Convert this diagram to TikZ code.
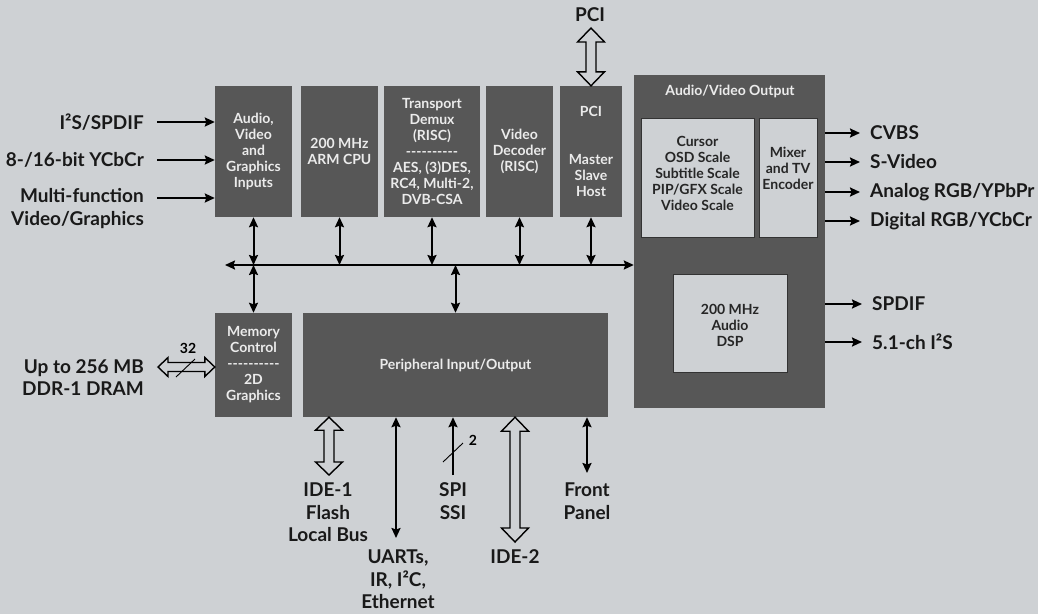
\documentclass[tikz,border=0pt]{standalone}
\usepackage{fontspec}
\setmainfont{Lato}
\usetikzlibrary{arrows.meta,calc}
\definecolor{bgc}{HTML}{CED1D4}
\definecolor{dark}{HTML}{575757}
\definecolor{innerc}{HTML}{CED1D4}
\newcommand{\lblf}{\fontsize{19}{22.5}\selectfont\bfseries}
\newcommand{\boxf}{\fontsize{14}{16}\selectfont\bfseries}
\newcommand{\dashrow}{-{}-{}-{}-{}-{}-{}-{}-{}-{}-}
% vertical hollow double arrow: #1 top, #2 bottom, #3 half head width, #4 head length, #5 half shaft width
\newcommand{\hollowV}[5]{%
  \draw[hollow] let \p1=(#1), \p2=(#2) in
    (\x1,\y1) -- (\x1+#3pt,\y1-#4pt) -- (\x1+#5pt,\y1-#4pt) -- (\x1+#5pt,\y2+#4pt)
    -- (\x1+#3pt,\y2+#4pt) -- (\x1,\y2) -- (\x1-#3pt,\y2+#4pt) -- (\x1-#5pt,\y2+#4pt)
    -- (\x1-#5pt,\y1-#4pt) -- (\x1-#3pt,\y1-#4pt) -- cycle;}
% horizontal hollow double arrow: #1 left, #2 right
\newcommand{\hollowH}[5]{%
  \draw[hollow] let \p1=(#1), \p2=(#2) in
    (\x1,\y1) -- (\x1+#4pt,\y1+#3pt) -- (\x1+#4pt,\y1+#5pt) -- (\x2-#4pt,\y1+#5pt)
    -- (\x2-#4pt,\y1+#3pt) -- (\x2,\y1) -- (\x2-#4pt,\y1-#3pt) -- (\x2-#4pt,\y1-#5pt)
    -- (\x1+#4pt,\y1-#5pt) -- (\x1+#4pt,\y1-#3pt) -- cycle;}
\begin{document}
\begin{tikzpicture}[x=1pt,y=-1pt,
  blk/.style={fill=dark, draw=none, text=white!92!black, align=center, inner sep=0pt, font=\boxf},
  inbox/.style={fill=innerc, draw=black!80, line width=0.8pt, inner sep=0pt},
  intext/.style={text=black!85, align=center, font=\boxf, inner sep=0pt},
  lbl/.style={font=\lblf, text=black!90, inner sep=0pt, align=center},
  numlbl/.style={font=\fontsize{14}{16}\selectfont\bfseries, inner sep=0pt},
  conn/.style={line width=2pt, -{Stealth[length=10pt,width=9pt,inset=1.5pt]}},
  dconn/.style={line width=2pt, {Stealth[length=10pt,width=9pt,inset=1.5pt]}-{Stealth[length=10pt,width=9pt,inset=1.5pt]}},
  hollow/.style={draw=black, fill=bgc, line width=1.4pt, line join=miter},
  tickln/.style={line width=0.9pt}
]
\fill[bgc] (0,0) rectangle (1038,614);
\useasboundingbox (0,0) rectangle (1038,614);

% top row blocks
\node[blk, minimum width=77pt, minimum height=131pt] (avin) at (253.5,151.5) {Audio,\\Video\\and\\Graphics\\Inputs};
\node[blk, minimum width=77pt, minimum height=131pt] (arm) at (339.5,151.5) {200 MHz\\ARM CPU};
\node[blk, minimum width=96pt, minimum height=131pt] (tdmx) at (432,151.5) {Transport\\Demux\\(RISC)\\\dashrow\\AES, (3)DES,\\RC4, Multi-2,\\DVB-CSA};
\node[blk, minimum width=67pt, minimum height=131pt] (vdec) at (519.5,151.5) {Video\\Decoder\\(RISC)};
\node[blk, minimum width=62pt, minimum height=131pt] (pcib) at (591,151.5) {PCI\\[32pt]Master\\Slave\\Host};

% audio/video output
\node[blk, minimum width=191pt, minimum height=333pt] (avout) at (729.5,241.5) {};
\node[blk] (avtitle) at (730,91) {Audio/Video Output};
\node[inbox, minimum width=113pt, minimum height=119pt] (cursorbox) at (697.5,177.5) {};
\node[intext] (cursortxt) at (697.5,173) {Cursor\\OSD Scale\\Subtitle Scale\\PIP/GFX Scale\\Video Scale};
\node[inbox, minimum width=58pt, minimum height=119pt] (mixbox) at (788,177.5) {};
\node[intext] (mixtxt) at (788,168) {Mixer\\and TV\\Encoder};
\node[inbox, minimum width=114pt, minimum height=98pt] (dspbox) at (730,323) {};
\node[intext] (dsptxt) at (730,325) {200 MHz\\Audio\\DSP};

% lower blocks
\node[blk, minimum width=77pt, minimum height=104pt] (mem) at (253.5,365) {Memory\\Control\\\dashrow\\2D\\Graphics};
\node[blk, minimum width=305pt, minimum height=104pt] (periph) at (455.5,365) {Peripheral Input/Output};

% bus
\coordinate (busL) at (225,265);
\draw[dconn] (busL) -- (busL -| avout.west);
\foreach \n in {avin,arm,tdmx,vdec,pcib}{
  \draw[dconn] (\n.south) -- (\n.south |- busL);
}
\draw[dconn] (busL -| mem.north) -- (mem.north);
\draw[dconn] (busL -| periph.north) -- (periph.north);

% inputs
\node[lbl, anchor=east] (i1) at (144,122) {I²S/SPDIF};
\node[lbl, anchor=east] (i2) at (144,160) {8-/16-bit YCbCr};
\node[lbl, anchor=east, align=right] (i3) at (144,208.5) {Multi-function\\Video/Graphics};
\coordinate (a1) at (157,122);
\coordinate (a2) at (157,160);
\coordinate (a3) at (157,198);
\draw[conn] (a1) -- (a1 -| avin.west);
\draw[conn] (a2) -- (a2 -| avin.west);
\draw[conn] (a3) -- (a3 -| avin.west);

% video outputs
\coordinate (o1) at (860,133);
\coordinate (o2) at (860,162);
\coordinate (o3) at (860,192);
\coordinate (o4) at (860,221);
\coordinate (o5) at (862,304);
\coordinate (o6) at (862,342);
\foreach \o in {o1,o2,o3,o4,o5,o6}{
  \draw[conn] (\o -| avout.east) -- (\o);
}
\node[lbl, anchor=west] (l1) at (870,133) {CVBS};
\node[lbl, anchor=west] (l2) at (870,162) {S-Video};
\node[lbl, anchor=west] (l3) at (870,192) {Analog RGB/YPbPr};
\node[lbl, anchor=west] (l4) at (870,221) {Digital RGB/YCbCr};
\node[lbl, anchor=west] (l5) at (872,304) {SPDIF};
\node[lbl, anchor=west] (l6) at (872,342) {5.1-ch I²S};

% PCI bus on top
\node[lbl] (pcilbl) at (590,15) {PCI};
\coordinate (pcitop) at (591,28);
\hollowV{pcitop}{pcib.north}{13.5}{14}{5}

% DRAM
\coordinate (dramL) at (158,367);
\hollowH{dramL}{mem.west}{9.5}{10}{4.5}
\node[lbl, anchor=east, align=right] (dram) at (144,377.5) {Up to 256 MB\\DDR-1 DRAM};
\node[numlbl] (n32) at (188,348) {32};
\draw[tickln] (176,377) -- (195,359);

% bottom peripherals
\coordinate (ide1b) at (329,475);
\hollowV{ide1b |- periph.south}{ide1b}{13.5}{13}{5}
\node[lbl] (ide1) at (328,512.5) {IDE-1\\Flash\\Local Bus};

\coordinate (uartb) at (396,538);
\draw[dconn] (uartb |- periph.south) -- (uartb);
\node[lbl] (uart) at (398,579.5) {UARTs,\\IR, I²C,\\Ethernet};

\coordinate (spib) at (453,475);
\draw[conn] (spib) -- (spib |- periph.south);
\draw[tickln] (443,462) -- (463,443);
\node[numlbl] (n2) at (473,440) {2};
\node[lbl] (spi) at (453,501) {SPI\\SSI};

\coordinate (ide2b) at (515,542);
\hollowV{ide2b |- periph.south}{ide2b}{13.5}{14}{5}
\node[lbl] (ide2) at (515,557) {IDE-2};

\coordinate (fpb) at (587,473);
\draw[dconn] (fpb |- periph.south) -- (fpb);
\node[lbl] (fp) at (587,501) {Front\\Panel};
\end{tikzpicture}
\end{document}
